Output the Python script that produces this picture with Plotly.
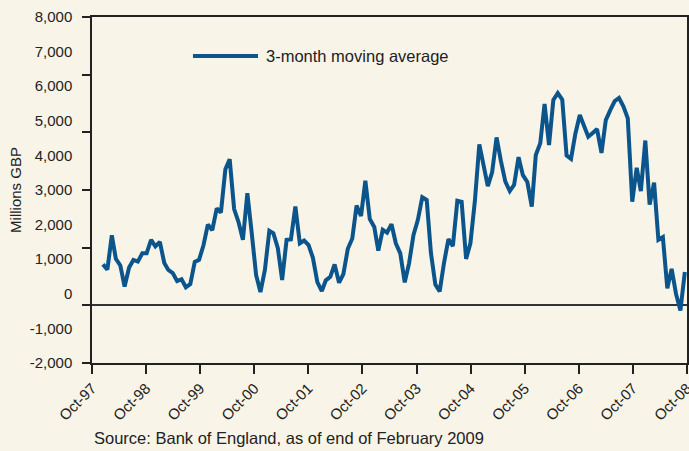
import pandas as pd
import plotly.graph_objects as go

# ---- data (label units) ----
months = pd.date_range("1997-12-01", "2009-01-01", freq="MS")
values = [850, 700, 1690, 1010, 820, 210, 760, 980, 930, 1170,
          1170, 1560, 1370, 1500, 890, 690, 600, 370, 420, 190,
          280, 920, 980, 1410, 2000, 1840, 2470, 2350, 3600, 3890,
          2450, 2080, 1560, 2910, 1770, 540, 50, 690, 1820, 1750,
          1320, 400, 1560, 1570, 2520, 1460, 1540, 1410, 1040, 340,
          80, 390, 490, 850, 320, 570, 1300, 1600, 2550, 2250,
          3270, 2160, 1930, 1250, 1850, 1770, 2010, 1460, 1170, 330,
          880, 1700, 2130, 2790, 2710, 1190, 270, 70, 910, 1580,
          1380, 2690, 2660, 1010, 1460, 2680, 4320, 3720, 3110, 3510,
          4520, 3840, 3240, 2970, 3150, 3950, 3430, 3230, 2520, 4010,
          4350, 5490, 4300, 5600, 5800, 5610, 4000, 3900, 4620, 5170,
          4810, 4540, 4650, 4760, 4070, 5020, 5310, 5570, 5660, 5410,
          5070, 2660, 3640, 2970, 4430, 2580, 3210, 1560, 1640, 160,
          720, -10, -480, 630]
series_name = "3-month moving average"
x_tick_labels = ["Oct-97", "Oct-98", "Oct-99", "Oct-00", "Oct-01", "Oct-02",
                 "Oct-03", "Oct-04", "Oct-05", "Oct-06", "Oct-07", "Oct-08"]
y_label_values = [8000, 7000, 6000, 5000, 4000, 3000, 2000, 1000, 0, -1000, -2000]
y_title = "Millions GBP"
source_text = "Source: Bank of England, as of end of February 2009"

# ---- style ----
BG = "#f8f4e8"
LINE = "#0b558c"
INK = "#222222"
FONT = "Liberation Sans, Arial, Helvetica, sans-serif"

x_start, x_end = "1997-09-16", "2009-01-16 00:00:01"
x_ticks = pd.date_range("1997-09-16", "2009-01-16", periods=len(x_tick_labels))

fig = go.Figure()
fig.add_trace(go.Scatter(
    x=months, y=values, mode="lines", name=series_name,
    line=dict(color=LINE, width=4), showlegend=False,
))
# helper trace so the secondary (tick-mark) axis is drawn
fig.add_trace(go.Scatter(x=[], y=[], yaxis="y2", showlegend=False, hoverinfo="skip"))

fig.update_layout(
    width=689, height=451,
    margin=dict(l=92, r=2, t=17, b=88, autoexpand=False),
    paper_bgcolor=BG, plot_bgcolor=BG,
    font=dict(family=FONT, size=15, color=INK),
    showlegend=False,
    xaxis=dict(
        type="date", range=[x_start, x_end], automargin=False,
        tickmode="array",
        tickvals=[d.strftime("%Y-%m-%d %H:%M:%S") for d in x_ticks],
        ticktext=x_tick_labels, tickangle=-45,
        ticklabeloverflow="allow",
        ticks="outside", ticklen=9, tickwidth=1.5, tickcolor=INK,
        showline=True, mirror=True, linecolor=INK, linewidth=1.5,
        showgrid=False, zeroline=False,
        tickfont=dict(size=15, color=INK),
    ),
    yaxis=dict(
        range=[-2000, 8000], automargin=False,
        tickmode="array", tickvals=y_label_values,
        ticktext=[f"{v:,}" for v in y_label_values],
        ticks="outside", ticklen=9, tickcolor="rgba(0,0,0,0)",
        ticklabelstandoff=6,
        showline=True, mirror=True, linecolor=INK, linewidth=1.5,
        showgrid=False, zeroline=False,
        tickfont=dict(size=15, color=INK),
        title=dict(text=y_title, font=dict(size=15, color=INK), standoff=4),
    ),
    yaxis2=dict(
        overlaying="y", side="left", range=[-1000, 5000], automargin=False,
        tickmode="linear", tick0=0, dtick=1000,
        ticks="outside", ticklen=9, tickwidth=1.5, tickcolor=INK,
        showticklabels=False, showgrid=False, showline=False,
        zeroline=True, zerolinecolor="#333333", zerolinewidth=1.5,
    ),
)

# legend drawn as a long line sample + label
fig.add_shape(type="line", xref="paper", yref="paper",
              x0=0.1697, x1=0.279, y0=0.8873, y1=0.8873,
              line=dict(color=LINE, width=4))
fig.add_annotation(text=series_name, xref="paper", yref="paper",
                   x=0.289, y=0.8873, xanchor="left", yanchor="middle",
                   showarrow=False, font=dict(size=16.5, color=INK))
fig.add_annotation(text=source_text, xref="paper", yref="paper",
                   x=0.0, y=-0.2168, xanchor="left", yanchor="middle",
                   showarrow=False, font=dict(size=16.5, color=INK))

fig.write_html("out.html",
               config={"displayModeBar": False},
               post_script=["document.body.style.margin='0';document.body.style.overflow='hidden';"])
